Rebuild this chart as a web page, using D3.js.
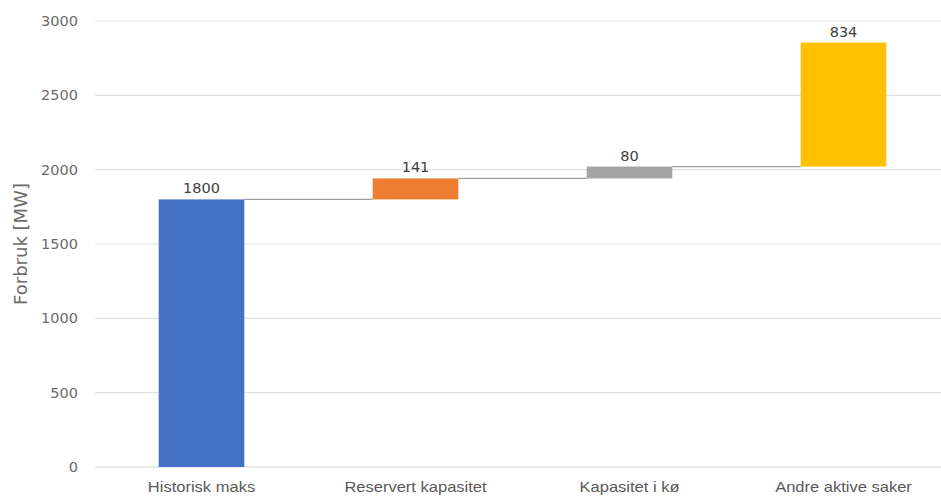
<!DOCTYPE html>
<html>
<head>
<meta charset="utf-8">
<script src="https://cdn.jsdelivr.net/npm/d3@7"></script>
<style>
  html, body { margin: 0; padding: 0; background: #fff; }
  svg { display: block; }
</style>
</head>
<body>
<svg id="chart" width="941" height="498"></svg>
<script>
// Waterfall: historical peak plus additional capacity requests
const categories = ["Historisk maks", "Reservert kapasitet", "Kapasitet i kø", "Andre aktive saker"];
const values = [1800, 141, 80, 834];
const colors = ["#4472C4", "#ED7D31", "#A5A5A5", "#FFC000"];
const yTicks = [0, 500, 1000, 1500, 2000, 2500, 3000];
const yTitle = "Forbruk [MW]";

const svg = d3.select("#chart");
const W = 941;

const y = d3.scaleLinear().domain([0, 3000]).range([467, 21]);
const x = d3.scaleBand().domain(categories).range([94.5, 950.5])
  .paddingInner(0.6).paddingOuter(0.3);

// running totals for the floating segments
let acc = 0;
const steps = categories.map((c, i) => {
  const start = acc;
  acc += values[i];
  return { cat: c, value: values[i], start, end: acc, color: colors[i] };
});

// horizontal gridlines
svg.append("g").selectAll("line").data(yTicks).join("line")
  .attr("x1", 95).attr("x2", W)
  .attr("y1", d => y(d)).attr("y2", d => y(d))
  .attr("stroke", d => d === 0 ? "#d4d4d4" : "#e3e3e3")
  .attr("stroke-width", 1.2);

// y axis labels
const yAxis = d3.axisLeft(y).tickValues(yTicks).tickFormat(d3.format("d"))
  .tickSize(0).tickPadding(0);
const gy = svg.append("g").attr("transform", "translate(78,0)").call(yAxis);
gy.select(".domain").remove();
gy.selectAll("text")
  .attr("fill", "#6b6b6b")
  .style("font-family", "DejaVu Sans, sans-serif")
  .style("font-size", "14.5px");

// y title
svg.append("text")
  .attr("transform", `translate(27,${(y(0) + y(3000)) / 2}) rotate(-90)`)
  .attr("text-anchor", "middle")
  .attr("fill", "#6b6b6b")
  .style("font-family", "DejaVu Sans, sans-serif")
  .style("font-size", "18px")
  .text(yTitle);

// connectors between consecutive segments
svg.append("g").selectAll("line").data(steps.slice(0, -1)).join("line")
  .attr("x1", d => x(d.cat) + x.bandwidth())
  .attr("x2", (d, i) => x(steps[i + 1].cat))
  .attr("y1", d => y(d.end)).attr("y2", d => y(d.end))
  .attr("stroke", "#9e9e9e")
  .attr("stroke-width", 1.3);

// bars
svg.append("g").selectAll("rect").data(steps).join("rect")
  .attr("x", d => x(d.cat))
  .attr("width", x.bandwidth())
  .attr("y", d => y(d.end))
  .attr("height", d => y(d.start) - y(d.end))
  .attr("fill", d => d.color);

// value labels
svg.append("g").selectAll("text").data(steps).join("text")
  .attr("x", d => x(d.cat) + x.bandwidth() / 2)
  .attr("y", d => y(d.end) - 6)
  .attr("text-anchor", "middle")
  .attr("fill", "#404040")
  .style("font-family", "DejaVu Sans, sans-serif")
  .style("font-size", "14.5px")
  .text(d => d.value);

// category labels, slightly widened
const xAxis = d3.axisBottom(x).tickSize(0).tickPadding(0);
const gx = svg.append("g").attr("transform", "translate(0,492)").call(xAxis);
gx.select(".domain").remove();
gx.selectAll("text")
  .attr("dy", 0)
  .attr("transform", "scale(1.18,1)")
  .attr("fill", "#595959")
  .style("font-family", "Liberation Sans, sans-serif")
  .style("font-size", "14px");
</script>
</body>
</html>
